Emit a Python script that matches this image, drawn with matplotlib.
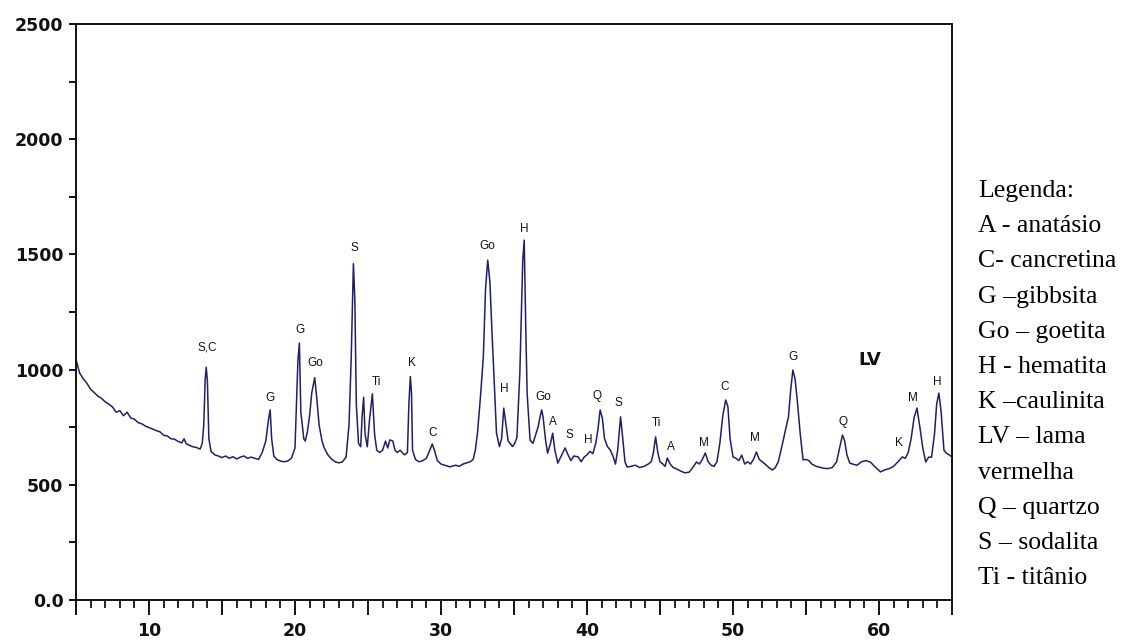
import matplotlib
matplotlib.use("Agg")
import matplotlib.pyplot as plt
from matplotlib.ticker import MultipleLocator, FuncFormatter

# difratograma da lama vermelha (LV)
two_theta = [
    5.0, 5.1, 5.25, 5.5, 5.75, 6.0, 6.25, 6.5, 6.75, 7.0, 7.25, 7.5, 7.75, 8.0, 8.25, 8.5,
    8.75, 9.0, 9.25, 9.5, 9.75, 10.0, 10.25, 10.5, 10.75, 11.0, 11.25, 11.5, 11.75, 12.0,
    12.25, 12.4, 12.55, 12.75, 13.0, 13.25, 13.5, 13.65, 13.75, 13.85, 13.92, 14.0, 14.1,
    14.25, 14.5, 14.75, 15.0, 15.25, 15.5, 15.75, 16.0, 16.25, 16.5, 16.75, 17.0, 17.25,
    17.5, 17.75, 18.0, 18.2, 18.3, 18.4, 18.55, 18.75, 19.0, 19.25, 19.5, 19.75, 20.0,
    20.12, 20.2, 20.3, 20.4, 20.5, 20.6, 20.7, 20.85, 21.0, 21.15, 21.35, 21.5, 21.65,
    21.85, 22.0, 22.25, 22.5, 22.75, 23.0, 23.25, 23.5, 23.7, 23.85, 24.0, 24.1, 24.2,
    24.35, 24.5, 24.6, 24.7, 24.8, 24.95, 25.1, 25.3, 25.45, 25.6, 25.8, 26.0, 26.2,
    26.35, 26.5, 26.7, 26.85, 27.0, 27.2, 27.5, 27.7, 27.8, 27.9, 27.98, 28.05, 28.25,
    28.5, 28.75, 29.0, 29.2, 29.4, 29.55, 29.75, 30.0, 30.25, 30.6, 31.0, 31.25, 31.5,
    31.75, 32.0, 32.2, 32.35, 32.5, 32.7, 32.9, 33.05, 33.2, 33.35, 33.5, 33.6, 33.8,
    34.0, 34.15, 34.3, 34.45, 34.6, 34.9, 35.05, 35.2, 35.4, 35.6, 35.7, 35.8, 35.9,
    36.1, 36.3, 36.5, 36.65, 36.8, 36.9, 37.0, 37.15, 37.3, 37.5, 37.65, 37.8, 38.0,
    38.2, 38.5, 38.7, 38.9, 39.1, 39.4, 39.6, 39.8, 40.0, 40.2, 40.4, 40.6, 40.75, 40.9,
    41.05, 41.2, 41.4, 41.6, 41.8, 41.95, 42.1, 42.3, 42.45, 42.6, 42.75, 43.0, 43.3,
    43.6, 43.9, 44.2, 44.4, 44.55, 44.7, 44.85, 45.0, 45.2, 45.35, 45.5, 45.7, 45.9,
    46.1, 46.4, 46.7, 47.0, 47.3, 47.5, 47.7, 47.9, 48.1, 48.3, 48.5, 48.7, 48.9, 49.1,
    49.3, 49.5, 49.65, 49.8, 50.0, 50.2, 50.4, 50.6, 50.8, 51.0, 51.2, 51.4, 51.6, 51.8,
    52.0, 52.2, 52.45, 52.7, 52.9, 53.1, 53.4, 53.6, 53.8, 53.95, 54.1, 54.25, 54.4,
    54.6, 54.8, 55.0, 55.2, 55.4, 55.7, 56.0, 56.2, 56.5, 56.8, 57.1, 57.3, 57.5, 57.65,
    57.8, 58.0, 58.2, 58.5, 58.8, 59.1, 59.4, 59.7, 60.1, 60.4, 60.7, 61.0, 61.3, 61.6,
    61.8, 62.0, 62.2, 62.4, 62.6, 62.8, 63.0, 63.2, 63.4, 63.6, 63.8, 63.95, 64.1, 64.25,
    64.45, 64.6, 64.8, 65.0,
]
counts = [
    1045, 1020, 985, 960, 940, 915, 900, 885, 875, 860, 850, 838, 815, 822, 800, 815,
    790, 785, 770, 765, 755, 748, 742, 735, 730, 715, 712, 700, 698, 688,
    682, 700, 678, 672, 665, 662, 655, 680, 760, 960, 1010, 950, 700,
    645, 630, 625, 618, 625, 615, 622, 612, 620, 625, 615, 620, 615,
    610, 640, 690, 790, 825, 700, 625, 610, 603, 600, 603, 615, 660,
    880, 1040, 1115, 815, 760, 700, 690, 730, 800, 900, 965, 870, 760,
    690, 660, 630, 612, 600, 595, 600, 620, 760, 1050, 1460, 1300, 850,
    680, 665, 800, 880, 720, 665, 780, 895, 720, 650, 640, 650, 690,
    660, 695, 690, 650, 640, 650, 630, 640, 850, 970, 900, 650, 610,
    600, 605, 615, 645, 677, 650, 605, 590, 585, 578, 585, 580, 590,
    595, 600, 610, 650, 725, 880, 1055, 1350, 1475, 1380, 1150, 1012, 725,
    666, 700, 833, 760, 690, 666, 680, 705, 985, 1475, 1562, 1200, 897,
    694, 680, 720, 751, 800, 825, 790, 700, 637, 680, 724, 650, 594,
    620, 660, 630, 605, 625, 621, 600, 620, 630, 645, 635, 680, 740, 825,
    790, 700, 666, 650, 621, 590, 650, 795, 700, 600, 577, 580, 585,
    575, 580, 590, 600, 640, 708, 640, 600, 590, 580, 616, 590, 575,
    570, 560, 552, 555, 580, 599, 590, 610, 638, 600, 585, 580, 600, 680,
    800, 868, 840, 700, 621, 615, 605, 629, 590, 600, 590, 610, 642, 610,
    600, 590, 575, 564, 575, 600, 681, 740, 795, 911, 998, 960, 868,
    724, 608, 610, 605, 590, 580, 575, 572, 570, 575, 600, 660, 716, 690,
    630, 594, 590, 585, 600, 605, 599, 580, 556, 565, 570, 580, 600, 621,
    615, 640, 700, 790, 833, 750, 660, 599, 620, 620, 720, 850, 898, 820,
    650, 638, 630, 621,
]

# identificacao dos picos (fase, 2theta, altura do rotulo)
peak_names = ["S,C", "G", "G", "Go", "S", "Ti", "K", "C", "Go", "H", "H", "Go", "A", "S",
              "H", "Q", "S", "Ti", "A", "M", "C", "M", "G", "Q", "K", "M", "H"]
peak_pos = [13.97, 18.29, 20.34, 21.37, 24.04, 25.55, 28.01, 29.45, 33.15, 34.3, 35.68,
            36.99, 37.67, 38.77, 40.07, 40.68, 42.12, 44.73, 45.75, 48.0, 49.45, 51.5,
            54.1, 57.53, 61.37, 62.33, 63.97]
peak_height = [1094, 877, 1172, 1029, 1528, 946, 1029, 725, 1536, 916, 1610, 881, 773, 716,
               694, 885, 855, 768, 664, 681, 924, 703, 1055, 773, 681, 877, 946]

legend_lines = ["Legenda:", "A - anatásio", "C- cancretina", "G \u2013gibbsita",
                "Go \u2013 goetita", "H - hematita", "K \u2013caulinita", "LV \u2013 lama",
                "vermelha", "Q \u2013 quartzo", "S \u2013 sodalita", "Ti - titânio"]

W, H = 1123, 642
fig = plt.figure(figsize=(W / 100, H / 100), dpi=100)
ax = fig.add_axes([76 / W, 1 - 600 / H, (952 - 76) / W, (600 - 24) / H])

ax.plot(two_theta, counts, color="#1f1f6e", lw=1.1)

for name, x, y in zip(peak_names, peak_pos, peak_height):
    ax.text(x, y, name, ha="center", va="center", fontsize=8.5,
            family="Liberation Sans", color="#111111")
ax.text(59.38, 1042, "LV", ha="center", va="center", fontsize=13,
        fontweight="bold", color="#111111")

ax.set_xlim(5, 65)
ax.set_ylim(0, 2500)
ax.xaxis.set_major_locator(MultipleLocator(5))
ax.xaxis.set_minor_locator(MultipleLocator(1))
ax.xaxis.set_major_formatter(FuncFormatter(lambda v, p: f"{v:.0f}" if v % 10 == 0 and 5 < v < 65 else ""))
ax.yaxis.set_major_locator(MultipleLocator(500))
ax.yaxis.set_minor_locator(MultipleLocator(250))
ax.yaxis.set_major_formatter(FuncFormatter(lambda v, p: "0.0" if v == 0 else f"{v:.0f}"))

ax.tick_params(axis="x", which="major", direction="out", length=11, width=1.3, pad=5)
ax.tick_params(axis="x", which="minor", direction="out", length=5.5, width=1.2)
ax.tick_params(axis="y", which="both", direction="out", length=5, width=1.3, pad=4)
for lab in ax.get_xticklabels() + ax.get_yticklabels():
    lab.set_fontweight("bold")
    lab.set_fontsize(12.5)
    lab.set_color("#111111")
for sp in ax.spines.values():
    sp.set_linewidth(1.4)
    sp.set_color("#111111")

for i, line in enumerate(legend_lines):
    fig.text(978 / W, 1 - (191 + 35.2 * i) / H, line, ha="left", va="center",
             fontsize=18.5, family="Liberation Serif", color="black")

fig.savefig("out.png", dpi=100)
